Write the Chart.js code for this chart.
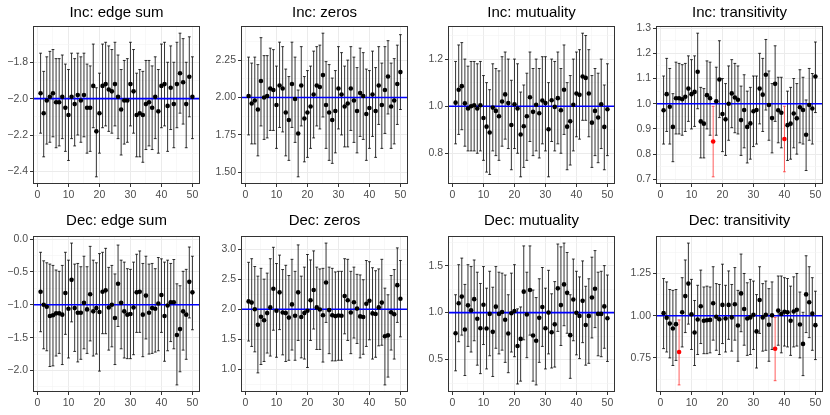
<!DOCTYPE html>
<html>
<head>
<meta charset="utf-8">
<script src="https://cdn.jsdelivr.net/npm/chart.js@4.4.1/dist/chart.umd.min.js"></script>
<style>
  body { margin: 0; background: #fff; width: 830px; height: 415px; position: relative; overflow: hidden; }
  .p { position: absolute; width: 207px; height: 207px; }
</style>
</head>
<body>
<div class="p" style="left:0;top:0"><canvas id="c0"></canvas></div>
<div class="p" style="left:208px;top:0"><canvas id="c1"></canvas></div>
<div class="p" style="left:415px;top:0"><canvas id="c2"></canvas></div>
<div class="p" style="left:623px;top:0"><canvas id="c3"></canvas></div>
<div class="p" style="left:0;top:208px"><canvas id="c4"></canvas></div>
<div class="p" style="left:208px;top:208px"><canvas id="c5"></canvas></div>
<div class="p" style="left:415px;top:208px"><canvas id="c6"></canvas></div>
<div class="p" style="left:623px;top:208px"><canvas id="c7"></canvas></div>
<script>
// replicate number 1..50
const runs = Array.from({length: 50}, (_, i) => i + 1);
const xTicks = [0, 10, 20, 30, 40, 50];

// Inc: edge sum
const incEdgeMean = [-1.97,-2.08,-2.01,-1.99,-1.97,-2.02,-2.02,-1.99,-2.05,-2.09,-1.99,-2.03,-1.98,-2.01,-1.98,-2.05,-2.05,-1.93,-2.18,-2.08,-1.93,-1.92,-1.95,-1.96,-1.92,-1.99,-2.06,-2.01,-2.01,-1.92,-1.96,-2.09,-2.08,-2.09,-2.03,-2.02,-2.05,-1.99,-2.07,-1.93,-1.92,-2.04,-1.94,-2.03,-1.92,-1.86,-1.91,-2.03,-1.88,-1.99];
const incEdgeHigh = [-1.75,-1.85,-1.77,-1.74,-1.73,-1.78,-1.78,-1.76,-1.81,-1.84,-1.75,-1.78,-1.75,-1.77,-1.75,-1.81,-1.82,-1.70,-1.94,-1.86,-1.70,-1.69,-1.71,-1.73,-1.69,-1.76,-1.84,-1.79,-1.78,-1.69,-1.73,-1.86,-1.84,-1.85,-1.79,-1.79,-1.82,-1.77,-1.84,-1.70,-1.69,-1.80,-1.71,-1.80,-1.69,-1.64,-1.67,-1.80,-1.66,-1.77];
const incEdgeLow = [-2.19,-2.32,-2.25,-2.24,-2.21,-2.27,-2.26,-2.22,-2.29,-2.34,-2.22,-2.26,-2.20,-2.24,-2.21,-2.30,-2.29,-2.16,-2.43,-2.30,-2.16,-2.15,-2.18,-2.19,-2.15,-2.22,-2.31,-2.25,-2.24,-2.15,-2.19,-2.32,-2.32,-2.35,-2.28,-2.26,-2.28,-2.22,-2.30,-2.16,-2.15,-2.29,-2.17,-2.27,-2.16,-2.08,-2.14,-2.27,-2.10,-2.22];
const incEdgeTicks = [-2.4, -2.2, -2.0, -1.8];
const incEdgeLabels = ['−2.4', '−2.2', '−2.0', '−1.8'];

// Inc: zeros
const incZerosMean = [2.01,1.96,1.98,1.92,2.11,2.00,2.01,2.06,2.05,1.95,2.08,2.06,1.90,1.85,2.09,1.99,1.76,2.08,1.86,1.90,1.94,2.02,2.08,2.07,2.15,1.95,1.90,1.85,1.91,2.06,2.02,1.94,1.96,2.06,1.98,1.91,2.03,2.01,1.89,1.93,2.02,1.91,2.08,1.95,2.05,2.14,1.94,1.98,2.09,2.17];
const incZerosHigh = [2.27,2.23,2.27,2.22,2.40,2.28,2.28,2.33,2.32,2.21,2.37,2.34,2.19,2.14,2.37,2.27,2.05,2.34,2.14,2.18,2.21,2.31,2.34,2.35,2.43,2.24,2.22,2.13,2.18,2.34,2.30,2.21,2.25,2.34,2.27,2.20,2.33,2.30,2.19,2.18,2.31,2.20,2.34,2.23,2.34,2.38,2.23,2.26,2.35,2.42];
const incZerosLow = [1.75,1.69,1.69,1.61,1.81,1.72,1.73,1.78,1.78,1.66,1.80,1.77,1.61,1.58,1.80,1.70,1.47,1.81,1.57,1.60,1.66,1.73,1.81,1.79,1.87,1.66,1.58,1.56,1.63,1.79,1.75,1.67,1.67,1.78,1.70,1.63,1.74,1.72,1.58,1.66,1.74,1.60,1.82,1.66,1.76,1.89,1.66,1.69,1.82,1.92];
const incZerosTicks = [1.5, 1.75, 2.0, 2.25];
const incZerosLabels = ['1.50', '1.75', '2.00', '2.25'];

// Inc: mutuality
const incMutualMean = [1.015,1.07,1.085,1.012,0.99,1.0,1.004,0.99,1.004,0.95,0.913,0.888,0.994,0.98,0.957,1.02,1.05,1.013,0.92,1.008,0.99,0.88,0.915,0.957,1.038,0.976,1.006,0.97,1.024,1.013,0.902,1.025,0.997,1.034,0.983,1.07,0.913,0.936,1.006,1.054,1.048,1.126,1.12,1.054,0.93,0.98,0.952,1.008,0.912,0.987];
const incMutualHigh = [1.19,1.26,1.27,1.20,1.17,1.19,1.19,1.18,1.19,1.13,1.10,1.07,1.18,1.16,1.15,1.21,1.23,1.20,1.11,1.20,1.18,1.06,1.09,1.14,1.23,1.16,1.20,1.16,1.21,1.21,1.10,1.20,1.19,1.23,1.16,1.26,1.10,1.13,1.20,1.23,1.24,1.31,1.30,1.24,1.13,1.16,1.14,1.20,1.09,1.18];
const incMutualLow = [0.84,0.88,0.90,0.83,0.81,0.81,0.81,0.80,0.81,0.77,0.72,0.71,0.81,0.79,0.77,0.83,0.86,0.82,0.73,0.82,0.80,0.70,0.74,0.77,0.85,0.79,0.81,0.78,0.84,0.81,0.70,0.85,0.81,0.84,0.80,0.88,0.73,0.75,0.81,0.87,0.86,0.94,0.94,0.87,0.74,0.79,0.76,0.82,0.73,0.79];
const incMutualTicks = [0.8, 1.0, 1.2];
const incMutualLabels = ['0.8', '1.0', '1.2'];

// Inc: transitivity
const incTransMean = [0.974,1.038,0.988,0.908,1.022,1.022,1.018,1.028,1.06,1.038,1.047,1.127,0.93,0.921,1.034,1.022,0.85,1.01,1.096,0.959,0.938,1.0,1.041,1.025,1.016,0.935,0.975,0.908,0.922,0.97,0.975,1.06,1.036,1.115,0.995,0.943,1.079,0.974,0.964,0.86,0.915,0.921,0.961,0.942,0.986,0.975,0.877,0.995,0.981,1.108];
const incTransHigh = [1.11,1.18,1.14,1.04,1.165,1.16,1.155,1.16,1.19,1.175,1.19,1.28,1.065,1.06,1.17,1.165,0.99,1.145,1.25,1.10,1.08,1.15,1.175,1.16,1.15,1.07,1.115,1.05,1.065,1.11,1.11,1.20,1.18,1.255,1.13,1.08,1.23,1.105,1.105,0.99,1.05,1.065,1.10,1.08,1.135,1.105,1.015,1.14,1.12,1.245];
const incTransLow = [0.84,0.89,0.84,0.77,0.88,0.88,0.875,0.89,0.93,0.90,0.91,0.98,0.785,0.785,0.90,0.875,0.71,0.875,0.945,0.81,0.795,0.855,0.905,0.885,0.88,0.795,0.825,0.765,0.78,0.83,0.84,0.92,0.89,0.975,0.855,0.805,0.93,0.845,0.825,0.73,0.775,0.78,0.825,0.80,0.845,0.84,0.735,0.855,0.84,0.965];
const incTransTicks = [0.7, 0.8, 0.9, 1.0, 1.1, 1.2, 1.3];
const incTransLabels = ['0.7', '0.8', '0.9', '1.0', '1.1', '1.2', '1.3'];

// Dec: edge sum
const decEdgeMean = [-0.80,-1.0,-1.03,-1.17,-1.16,-1.13,-1.13,-1.15,-0.82,-1.06,-0.62,-1.05,-1.12,-1.12,-0.97,-1.07,-0.84,-1.10,-1.05,-1.11,-0.80,-0.78,-1.04,-1.0,-1.20,-0.68,-0.97,-1.10,-1.15,-1.14,-1.04,-0.81,-0.80,-1.15,-0.86,-1.12,-1.05,-1.06,-0.98,-0.85,-1.17,-1.01,-0.96,-0.96,-1.46,-1.37,-1.10,-1.15,-0.65,-0.81];
const decEdgeHigh = [-0.20,-0.33,-0.36,-0.38,-0.40,-0.47,-0.49,-0.40,-0.20,-0.32,-0.06,-0.38,-0.37,-0.42,-0.26,-0.42,-0.11,-0.32,-0.36,-0.22,-0.20,-0.14,-0.43,-0.40,-0.53,-0.09,-0.32,-0.35,-0.45,-0.46,-0.35,-0.23,-0.18,-0.37,-0.26,-0.38,-0.37,-0.45,-0.28,-0.30,-0.35,-0.32,-0.37,-0.31,-0.68,-0.71,-0.49,-0.46,-0.12,-0.26];
const decEdgeLow = [-1.41,-1.67,-1.70,-1.94,-1.93,-1.78,-1.74,-1.91,-1.45,-1.81,-1.26,-1.71,-1.87,-1.83,-1.67,-1.74,-1.55,-1.78,-1.75,-2.01,-1.44,-1.44,-1.69,-1.64,-1.91,-1.33,-1.67,-1.81,-1.82,-1.82,-1.76,-1.42,-1.42,-1.79,-1.52,-1.75,-1.74,-1.72,-1.70,-1.42,-1.86,-1.70,-1.56,-1.67,-2.22,-2.02,-1.69,-1.83,-1.20,-1.38];
const decEdgeTicks = [-2.0, -1.5, -1.0, -0.5, 0.0];
const decEdgeLabels = ['−2.0', '−1.5', '−1.0', '−0.5', '0.0'];

// Dec: zeros
const decZerosMean = [2.13,2.11,2.0,1.74,1.875,1.815,1.935,2.03,2.34,1.975,2.28,1.945,1.935,1.86,2.08,1.89,2.28,1.87,1.935,1.975,2.15,2.32,2.03,1.995,1.90,2.445,1.985,1.90,1.885,1.895,1.89,2.22,2.15,1.945,2.115,2.01,1.88,1.87,2.09,2.14,1.93,1.92,2.03,2.11,1.55,1.565,1.95,1.915,2.40,2.175];
const decZerosHigh = [2.78,2.84,2.71,2.55,2.68,2.50,2.60,2.84,3.03,2.76,2.90,2.66,2.73,2.56,2.83,2.63,3.07,2.55,2.70,2.91,2.82,2.97,2.70,2.67,2.68,3.10,2.70,2.68,2.62,2.63,2.63,2.84,2.83,2.63,2.70,2.58,2.57,2.49,2.81,2.79,2.69,2.64,2.67,2.83,2.35,2.24,2.56,2.66,3.02,2.81];
const decZerosLow = [1.47,1.38,1.29,0.94,1.08,1.13,1.27,1.22,1.65,1.20,1.66,1.24,1.13,1.15,1.32,1.15,1.48,1.19,1.17,1.03,1.48,1.67,1.33,1.33,1.12,1.78,1.26,1.14,1.14,1.15,1.15,1.59,1.48,1.26,1.52,1.43,1.19,1.25,1.38,1.49,1.17,1.20,1.39,1.40,0.74,0.87,1.32,1.17,1.78,1.54];
const decZerosTicks = [1.0, 1.5, 2.0, 2.5, 3.0];
const decZerosLabels = ['1.0', '1.5', '2.0', '2.5', '3.0'];

// Dec: mutuality
const decMutualMean = [0.78,1.10,1.17,0.82,1.077,1.024,1.143,0.934,0.833,1.084,0.83,0.986,0.795,1.063,0.986,1.007,0.923,0.777,0.993,1.017,0.645,0.72,1.223,0.98,1.24,0.756,0.70,0.944,1.06,0.833,1.0,0.79,0.875,1.258,1.08,1.30,1.21,0.76,1.14,0.997,0.965,1.125,0.868,0.965,1.16,1.254,0.986,0.986,1.066,0.94];
const decMutualHigh = [1.19,1.51,1.58,1.30,1.51,1.49,1.56,1.43,1.31,1.49,1.26,1.44,1.27,1.49,1.43,1.42,1.40,1.19,1.42,1.51,1.04,1.06,1.71,1.43,1.71,1.24,1.16,1.36,1.48,1.26,1.45,1.20,1.33,1.73,1.70,1.74,1.64,1.19,1.57,1.44,1.38,1.55,1.28,1.36,1.59,1.66,1.43,1.44,1.50,1.40];
const decMutualLow = [0.38,0.69,0.76,0.33,0.64,0.58,0.70,0.44,0.35,0.66,0.40,0.54,0.32,0.62,0.56,0.60,0.47,0.36,0.58,0.53,0.24,0.27,0.71,0.52,0.76,0.27,0.23,0.47,0.64,0.40,0.56,0.41,0.42,0.80,0.65,0.86,0.78,0.30,0.70,0.55,0.51,0.68,0.44,0.46,0.73,0.84,0.54,0.53,0.62,0.48];
const decMutualTicks = [0.5, 1.0, 1.5];
const decMutualLabels = ['0.5', '1.0', '1.5'];

// Dec: transitivity
const decTransMean = [1.015,0.988,0.953,0.924,0.95,0.785,1.02,1.116,1.19,1.008,0.90,0.977,1.056,0.97,0.973,0.975,1.074,0.994,0.979,1.064,0.983,1.064,0.99,1.068,0.942,1.132,1.04,0.983,0.99,1.006,0.907,1.093,0.99,1.006,0.946,1.002,0.804,1.03,1.01,1.023,1.02,0.97,1.025,1.035,0.948,0.833,1.126,1.08,1.012,0.944];
const decTransHigh = [1.22,1.20,1.155,1.15,1.155,0.975,1.225,1.33,1.43,1.215,1.09,1.18,1.27,1.17,1.175,1.17,1.29,1.19,1.185,1.305,1.18,1.265,1.185,1.285,1.15,1.365,1.25,1.195,1.215,1.205,1.125,1.29,1.19,1.205,1.16,1.2,0.99,1.235,1.235,1.225,1.22,1.175,1.23,1.25,1.14,1.02,1.355,1.29,1.225,1.145];
const decTransLow = [0.805,0.785,0.75,0.705,0.735,0.59,0.815,0.90,0.95,0.80,0.705,0.77,0.835,0.775,0.775,0.78,0.855,0.795,0.77,0.835,0.785,0.86,0.79,0.855,0.73,0.905,0.825,0.765,0.77,0.80,0.69,0.895,0.79,0.795,0.73,0.80,0.615,0.825,0.78,0.82,0.815,0.765,0.815,0.82,0.75,0.645,0.90,0.87,0.795,0.74];
const decTransTicks = [0.75, 1.0, 1.25];
const decTransLabels = ['0.75', '1.00', '1.25'];

const titles = ['Inc: edge sum', 'Inc: zeros', 'Inc: mutuality', 'Inc: transitivity',
                'Dec: edge sum', 'Dec: zeros', 'Dec: mutuality', 'Dec: transitivity'];
const truths = [-2, 2, 1, 1, -1, 2, 1, 1];

const panels = [
  [incEdgeMean, incEdgeLow, incEdgeHigh, incEdgeTicks, incEdgeLabels],
  [incZerosMean, incZerosLow, incZerosHigh, incZerosTicks, incZerosLabels],
  [incMutualMean, incMutualLow, incMutualHigh, incMutualTicks, incMutualLabels],
  [incTransMean, incTransLow, incTransHigh, incTransTicks, incTransLabels],
  [decEdgeMean, decEdgeLow, decEdgeHigh, decEdgeTicks, decEdgeLabels],
  [decZerosMean, decZerosLow, decZerosHigh, decZerosTicks, decZerosLabels],
  [decMutualMean, decMutualLow, decMutualHigh, decMutualTicks, decMutualLabels],
  [decTransMean, decTransLow, decTransHigh, decTransTicks, decTransLabels]
];

const FONT = "'Liberation Sans', Arial, sans-serif";
const AXIS_TXT = '#4d4d4d';

function isIn(list, v) {
  return list.some(t => Math.abs(t - v) < 1e-9);
}

// major ticks plus the minor ones half way between (ggplot style)
function withMinor(major, min, max) {
  const step = major[1] - major[0];
  const out = [];
  for (let v = major[0] - step / 2; v <= max + 1e-9; v += step / 2) {
    if (v >= min - 1e-9) out.push(+v.toFixed(6));
  }
  return out;
}

function makePanel(k) {
  const [mean, low, high, yTicks, yLabels] = panels[k];
  const truth = truths[k];
  const miss = low.map((lo, i) => high[i] < truth || lo > truth);

  const lo = Math.min(...low, truth), hi = Math.max(...high, truth);
  const pad = (hi - lo) * 0.05;
  const yMin = lo - pad, yMax = hi + pad;
  const xMin = 1 - 49 * 0.05, xMax = 50 + 49 * 0.05;
  const topPad = k < 4 ? 26 : 28;

  const errorBars = {
    id: 'errorBars',
    beforeDatasetsDraw(chart) {
      const {ctx, chartArea: a, scales: {x, y}} = chart;
      ctx.save();
      ctx.beginPath();
      ctx.rect(a.left, a.top, a.width, a.height);
      ctx.clip();
      runs.forEach((r, i) => {
        const px = x.getPixelForValue(r);
        const y1 = y.getPixelForValue(low[i]);
        const y2 = y.getPixelForValue(high[i]);
        ctx.strokeStyle = miss[i] ? 'rgba(255,40,40,0.75)' : '#000';
        ctx.lineWidth = miss[i] ? 1 : 0.8;
        ctx.beginPath();
        ctx.moveTo(px, y1); ctx.lineTo(px, y2);
        ctx.moveTo(px - 1.4, y1); ctx.lineTo(px + 1.4, y1);
        ctx.moveTo(px - 1.4, y2); ctx.lineTo(px + 1.4, y2);
        ctx.stroke();
      });
      const ty = y.getPixelForValue(truth);
      ctx.strokeStyle = '#0000ff';
      ctx.lineWidth = 1.6;
      ctx.beginPath();
      ctx.moveTo(a.left, ty);
      ctx.lineTo(a.right, ty);
      ctx.stroke();
      ctx.restore();
    },
    afterDraw(chart) {
      const {ctx, chartArea: a} = chart;
      ctx.save();
      ctx.strokeStyle = '#333';
      ctx.lineWidth = 1;
      ctx.strokeRect(Math.round(a.left) + 0.5, Math.round(a.top) + 0.5,
                     Math.round(a.width) - 1, Math.round(a.height) - 1);
      // panel title, centred over the plot area like ggplot
      ctx.fillStyle = '#000';
      ctx.font = '15px ' + FONT;
      ctx.textAlign = 'center';
      ctx.textBaseline = 'middle';
      ctx.fillText(titles[k], (a.left + a.right) / 2, 13);
      ctx.restore();
    }
  };

  const gridOpts = (major) => ({
    color: c => isIn(major, c.tick.value) ? '#ebebeb' : '#f4f4f4',
    lineWidth: c => isIn(major, c.tick.value) ? 1 : 0.6,
    tickColor: c => isIn(major, c.tick.value) ? '#333' : 'rgba(0,0,0,0)',
    tickLength: 3,
    drawTicks: true
  });

  new Chart(document.getElementById('c' + k), {
    type: 'scatter',
    data: {
      datasets: [{
        data: runs.map((r, i) => ({x: r, y: mean[i]})),
        pointRadius: 2.3,
        pointHoverRadius: 2.3,
        pointBorderWidth: 0,
        pointBackgroundColor: mean.map((m, i) => miss[i] ? '#ff0000' : '#000')
      }]
    },
    options: {
      responsive: true,
      maintainAspectRatio: false,
      animation: false,
      events: [],
      layout: {padding: {left: 0, right: 7, top: topPad, bottom: 0}},
      plugins: {
        legend: {display: false},
        tooltip: {enabled: false},
        title: {display: false}
      },
      scales: {
        x: {
          type: 'linear',
          min: xMin, max: xMax,
          bounds: 'data',
          afterBuildTicks: s => { s.ticks = withMinor(xTicks, xMin, xMax).map(v => ({value: v})); },
          afterFit: s => { s.height = 23; },
          border: {display: false},
          grid: gridOpts(xTicks),
          ticks: {
            autoSkip: false, maxRotation: 0, padding: 2,
            color: AXIS_TXT, font: {family: FONT, size: 10.5},
            callback: v => isIn(xTicks, v) ? String(v) : ''
          }
        },
        y: {
          type: 'linear',
          min: yMin, max: yMax,
          bounds: 'data',
          afterBuildTicks: s => { s.ticks = withMinor(yTicks, yMin, yMax).map(v => ({value: v})); },
          afterFit: s => { s.width = 33; },
          border: {display: false},
          grid: gridOpts(yTicks),
          ticks: {
            autoSkip: false, padding: 2,
            color: AXIS_TXT, font: {family: FONT, size: 10.5},
            callback: v => {
              const j = yTicks.findIndex(t => Math.abs(t - v) < 1e-9);
              return j >= 0 ? yLabels[j] : '';
            }
          }
        }
      }
    },
    plugins: [errorBars]
  });
}

panels.forEach((p, k) => makePanel(k));
</script>
</body>
</html>
